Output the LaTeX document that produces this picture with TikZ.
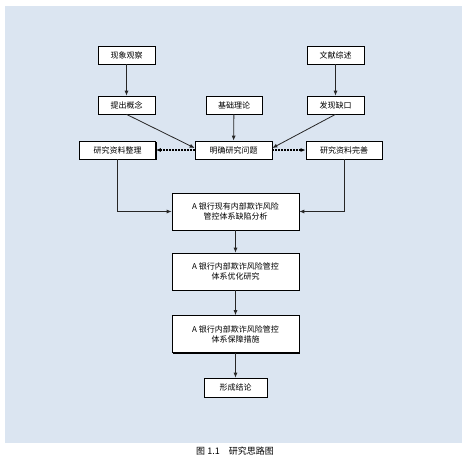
\documentclass[tikz,border=0pt]{standalone}
\usepackage{fontspec}
\newfontfamily\cjk{Noto Sans CJK SC}
\usetikzlibrary{arrows.meta,shadows}
\definecolor{bgblue}{HTML}{DBE5F1}
\begin{document}
\begin{tikzpicture}[x=1pt,y=-1pt,
  box/.style={draw=black,line width=0.7pt,fill=white,minimum height=18pt,inner sep=1pt,
    font=\cjk\fontsize{8}{10}\selectfont,align=center,
    drop shadow={shadow xshift=1.4pt,shadow yshift=-1.4pt,fill=black,opacity=1}},
  bigbox/.style={box,minimum width=127pt,minimum height=37pt},
  arr/.style={-{Latex[length=5pt,width=4pt]},line width=0.8pt,draw=black!85},
  darr/.style={-{Latex[length=5pt,width=4pt]},line width=1.1pt,dash pattern=on 2pt off 1pt}
]
\useasboundingbox (0,0) rectangle (471,459);
\fill[white] (0,0) rectangle (471,459);
\fill[bgblue] (5,6) rectangle (462,443);

\node[box,minimum width=57pt] (obs) at (126.5,55) {现象观察};
\node[box,minimum width=57pt] (lit) at (335.5,55) {文献综述};
\node[box,minimum width=57pt] (concept) at (126.5,105) {提出概念};
\node[box,minimum width=56pt] (theory) at (234,105) {基础理论};
\node[box,minimum width=57pt] (gap) at (335.5,105) {发现缺口};
\node[box,minimum width=76pt] (org) at (117.5,150) {研究资料整理};
\node[box,minimum width=77pt] (clear) at (233.5,150) {明确研究问题};
\node[box,minimum width=76pt] (comp) at (344,150) {研究资料完善};
\node[bigbox] (a1) at (235.5,211.5) {A 银行现有内部欺诈风险\\管控体系缺陷分析};
\node[bigbox] (a2) at (235.5,271.5) {A 银行内部欺诈风险管控\\体系优化研究};
\node[bigbox] (a3) at (235.5,334) {A 银行内部欺诈风险管控\\体系保障措施};
\node[box,minimum width=63pt,minimum height=19pt] (concl) at (235.5,387.5) {形成结论};

\node[font=\cjk\fontsize{9}{11}\selectfont] (cap) at (235,451) {图 1.1\hspace{1em}研究思路图};

\draw[arr] (obs) -- (concept);
\draw[arr] (lit) -- (gap);
\draw[arr] (theory) -- (clear);
\draw[arr] (concept.south) -- ([yshift=2pt]clear.west);
\draw[arr] (gap.south) -- ([yshift=2pt]clear.east);
\draw[darr] (clear.west) -- (org.east);
\draw[darr] (clear.east) -- (comp.east -| comp.west);
\draw[arr] (org.south) |- (a1.west);
\draw[arr] (comp.south) |- (a1.east);
\draw[arr] (a1) -- (a2);
\draw[arr] (a2) -- (a3);
\draw[arr] (a3) -- (concl);
\end{tikzpicture}
\end{document}
